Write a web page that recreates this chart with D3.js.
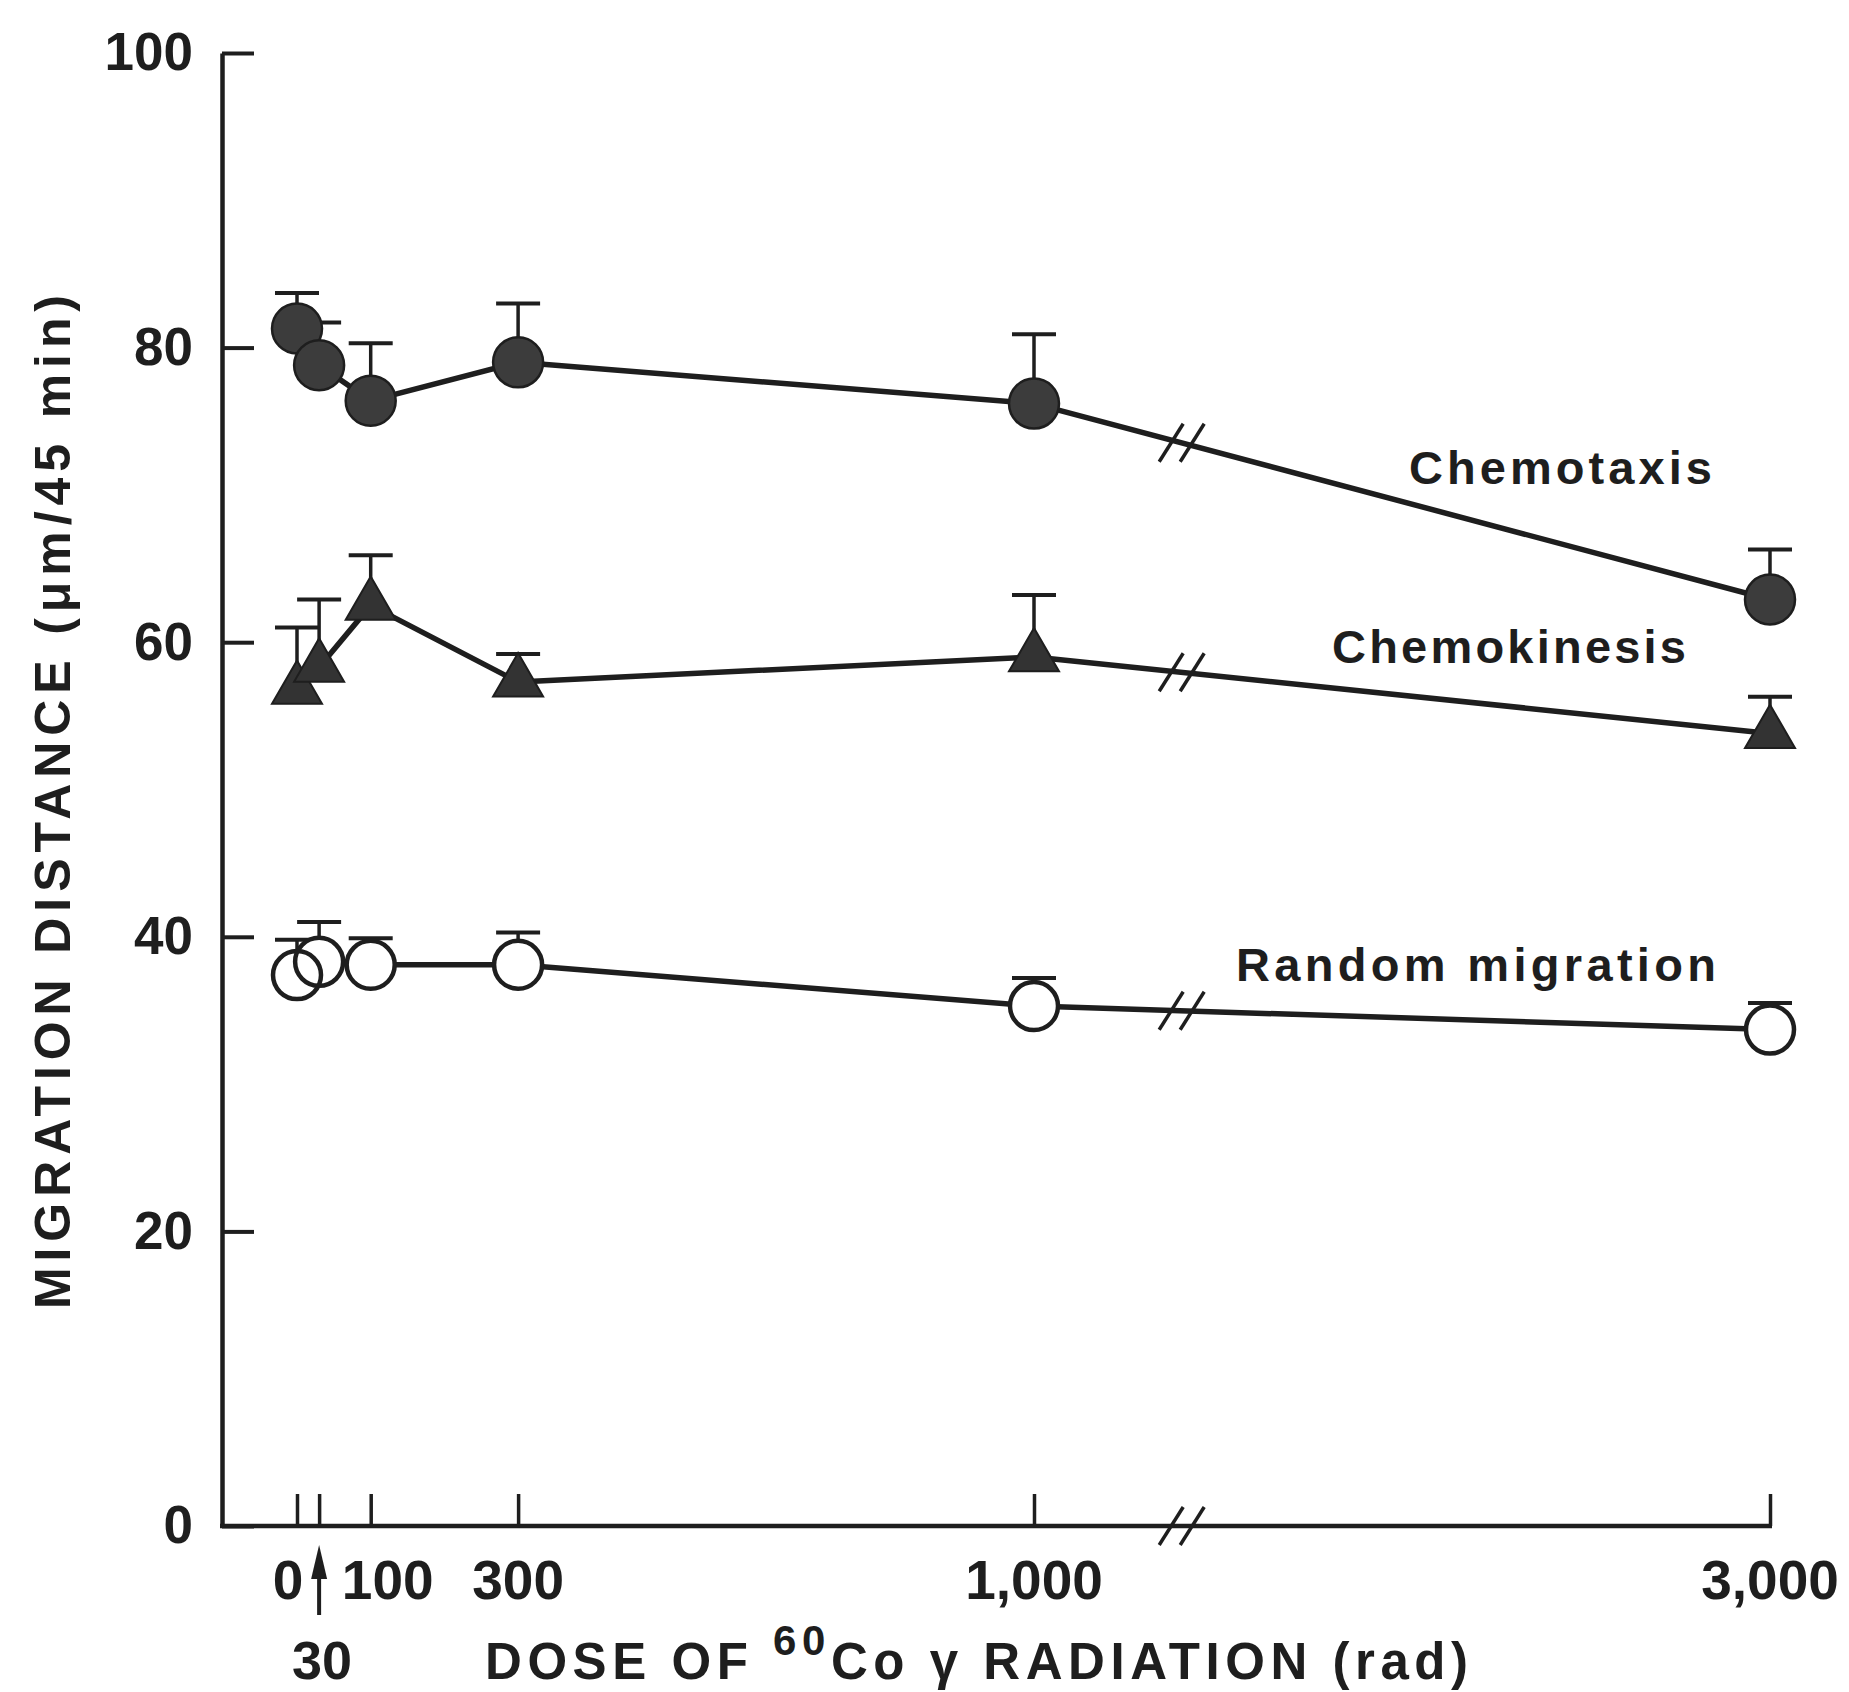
<!DOCTYPE html>
<html>
<head>
<meta charset="utf-8">
<script src="https://cdn.jsdelivr.net/npm/d3@7"></script>
<style>
  body { margin: 0; background: #fff; }
  svg { display: block; }
  text { font-family: "Liberation Sans", Arial, sans-serif; font-weight: bold; fill: #1e1e1e; }
</style>
</head>
<body>
<div id="chart"></div>
<script>
// doses (rad) and the three migration series (um / 45 min), with upper error (SE)
const doses = [0, 30, 100, 300, 1000, 3000];
const chemotaxis   = [81.3, 78.8, 76.4, 79.0, 76.2, 62.9];
const chemotaxisSE = [2.4, 2.9, 3.9, 4.0, 4.7, 3.4];
const chemokinesis   = [56.8, 58.3, 62.5, 57.3, 59.0, 53.8];
const chemokinesisSE = [4.2, 4.6, 3.4, 1.9, 4.2, 2.5];
const randomMig   = [37.4, 38.3, 38.1, 38.1, 35.3, 33.7];
const randomMigSE = [2.4, 2.7, 1.8, 2.2, 1.9, 1.8];

const yTicks = [0, 20, 40, 60, 80, 100];
const xTickDoses = [0, 100, 300, 1000, 3000];
const xTickLabels = ["0", "100", "300", "1,000", "3,000"];
const breakDose = 1400;

const width = 1849, height = 1692;
const ink = "#1e1e1e";

var svg = d3.select("#chart").append("svg")
    .attr("width", width)
    .attr("height", height);

svg.append("rect").attr("width", width).attr("height", height).attr("fill", "#fff");

// piecewise scale: linear up to 1000, compressed after the break
var x = d3.scaleLinear().domain([0, 1000, 3000]).range([297, 1034, 1770]);
var y = d3.scaleLinear().domain([0, 100]).range([1526, 53]);
const axisX = 222;

// y axis, ticks point inward
var yAxis = svg.append("g")
    .attr("transform", "translate(" + axisX + ",0)")
    .call(d3.axisLeft(y).tickValues(yTicks).tickSizeInner(-32).tickSizeOuter(0).tickPadding(29));
yAxis.select(".domain").attr("stroke", ink).attr("stroke-width", 4.5);
yAxis.selectAll(".tick line").attr("stroke", ink).attr("stroke-width", 4);
yAxis.selectAll(".tick text")
    .style("font-size", "53px")
    .style("font-family", "'Liberation Sans', Arial, sans-serif")
    .style("font-weight", "bold")
    .attr("fill", ink);

// x axis: ticks only from d3, the base line drawn by hand (it starts at the y axis)
var xAxis = svg.append("g")
    .attr("transform", "translate(0," + y(0) + ")")
    .call(d3.axisBottom(x).tickValues(doses).tickSizeInner(-32).tickSizeOuter(0).tickFormat(""));
xAxis.select(".domain").remove();
xAxis.selectAll(".tick line").attr("stroke", ink).attr("stroke-width", 3.5);

svg.append("line")
    .attr("x1", axisX - 2).attr("x2", x(3000) + 2)
    .attr("y1", y(0)).attr("y2", y(0))
    .attr("stroke", ink).attr("stroke-width", 4.5);

function drawBreak(cx, cy) {
    [-10, 11].forEach(function(dx) {
        svg.append("line")
            .attr("x1", cx + dx - 12).attr("y1", cy + 19)
            .attr("x2", cx + dx + 12).attr("y2", cy - 19)
            .attr("stroke", ink).attr("stroke-width", 3.5);
    });
}
drawBreak(x(breakDose), y(0));

// x tick labels (small nudges where the original shifts them around the arrow)
var labelNudge = {0: -9, 100: 17, 300: 0, 1000: 0, 3000: 0};
svg.selectAll(".xlab")
    .data(xTickDoses)
    .enter()
    .append("text")
    .attr("class", "xlab")
    .attr("x", function(d) { return x(d) + labelNudge[d]; })
    .attr("y", 1599)
    .attr("text-anchor", "middle")
    .style("font-size", "55px")
    .text(function(d, i) { return xTickLabels[i]; });

// arrow pointing at the 30 rad tick
var ax = x(30);
svg.append("line")
    .attr("x1", ax).attr("x2", ax)
    .attr("y1", 1615).attr("y2", 1570)
    .attr("stroke", ink).attr("stroke-width", 4);
svg.append("path")
    .attr("d", "M" + ax + ",1545 L" + (ax - 8) + ",1579 L" + (ax + 8) + ",1579 Z")
    .attr("fill", ink);
svg.append("text")
    .attr("x", ax + 3).attr("y", 1679)
    .attr("text-anchor", "middle")
    .style("font-size", "54px")
    .text("30");

// axis titles
var xt = svg.append("text")
    .attr("x", 485).attr("y", 1679)
    .style("font-size", "51px")
    .attr("textLength", 983)
    .attr("lengthAdjust", "spacing");
xt.append("tspan").text("DOSE OF ");
xt.append("tspan").attr("dy", -24).style("font-size", "42px").text("60");
xt.append("tspan").attr("dy", 24).text("Co \u03b3 RADIATION (rad)");

svg.append("text")
    .attr("transform", "translate(70,802) rotate(-90)")
    .attr("text-anchor", "middle")
    .style("font-size", "50px")
    .attr("textLength", 1014)
    .attr("lengthAdjust", "spacing")
    .text("MIGRATION DISTANCE (\u03bcm/45 min)");

// series
var series = [
    {name: "Chemotaxis", values: chemotaxis, se: chemotaxisSE, marker: "filled"},
    {name: "Chemokinesis", values: chemokinesis, se: chemokinesisSE, marker: "triangle"},
    {name: "Random migration", values: randomMig, se: randomMigSE, marker: "open"}
];

var line = d3.line()
    .x(function(d) { return x(d.dose); })
    .y(function(d) { return y(d.v); });

series.forEach(function(s) {
    s.points = doses.map(function(d, i) { return {dose: d, v: s.values[i], se: s.se[i]}; });
});

// lines
series.forEach(function(s) {
    svg.append("path")
        .datum(s.points)
        .attr("d", line)
        .attr("fill", "none")
        .attr("stroke", ink)
        .attr("stroke-width", 5.5)
        .attr("stroke-linejoin", "round");
    // break marks on each line, between 1000 and 3000
    var v0 = s.values[4], v1 = s.values[5];
    var t = (breakDose - 1000) / 2000;
    drawBreak(x(breakDose), y(v0 + (v1 - v0) * t));
});

// error bars
series.forEach(function(s) {
    var g = svg.append("g");
    g.selectAll("line.stem")
        .data(s.points)
        .enter()
        .append("line")
        .attr("x1", function(d) { return x(d.dose); })
        .attr("x2", function(d) { return x(d.dose); })
        .attr("y1", function(d) { return y(d.v); })
        .attr("y2", function(d) { return y(d.v + d.se); })
        .attr("stroke", ink).attr("stroke-width", 3.5);
    g.selectAll("line.cap")
        .data(s.points)
        .enter()
        .append("line")
        .attr("x1", function(d) { return x(d.dose) - 22; })
        .attr("x2", function(d) { return x(d.dose) + 22; })
        .attr("y1", function(d) { return y(d.v + d.se); })
        .attr("y2", function(d) { return y(d.v + d.se); })
        .attr("stroke", ink).attr("stroke-width", 4);
});

// markers
var side = 50, th = side * Math.sqrt(3) / 2;
function triPath(d) {
    var cx = x(d.dose), cy = y(d.v);
    return "M" + cx + "," + (cy - th * 2 / 3) +
        "L" + (cx + side / 2) + "," + (cy + th / 3) +
        "L" + (cx - side / 2) + "," + (cy + th / 3) + "Z";
}

series.forEach(function(s) {
    var g = svg.append("g");
    if (s.marker === "filled") {
        g.selectAll("circle")
            .data(s.points)
            .enter()
            .append("circle")
            .attr("cx", function(d) { return x(d.dose); })
            .attr("cy", function(d) { return y(d.v); })
            .attr("r", 25)
            .attr("fill", "#3c3c3c")
            .attr("stroke", ink)
            .attr("stroke-width", 2.5);
    } else if (s.marker === "triangle") {
        g.selectAll("path")
            .data(s.points)
            .enter()
            .append("path")
            .attr("d", triPath)
            .attr("fill", "#333")
            .attr("stroke", ink)
            .attr("stroke-width", 2);
    } else {
        // white fills first so both outlines of overlapping circles stay visible
        g.selectAll("circle.fill")
            .data(s.points)
            .enter()
            .append("circle")
            .attr("cx", function(d) { return x(d.dose); })
            .attr("cy", function(d) { return y(d.v); })
            .attr("r", 24)
            .attr("fill", "#fff");
        g.selectAll("circle.ring")
            .data(s.points)
            .enter()
            .append("circle")
            .attr("cx", function(d) { return x(d.dose); })
            .attr("cy", function(d) { return y(d.v); })
            .attr("r", 24)
            .attr("fill", "none")
            .attr("stroke", ink)
            .attr("stroke-width", 4.5);
    }
});

// series labels
var labels = [
    {text: "Chemotaxis", x: 1409, y: 484, len: 303},
    {text: "Chemokinesis", x: 1332, y: 663, len: 354},
    {text: "Random migration", x: 1236, y: 981, len: 480}
];
svg.selectAll(".slab")
    .data(labels)
    .enter()
    .append("text")
    .attr("class", "slab")
    .attr("x", function(d) { return d.x; })
    .attr("y", function(d) { return d.y; })
    .attr("textLength", function(d) { return d.len; })
    .attr("lengthAdjust", "spacing")
    .style("font-size", "47px")
    .text(function(d) { return d.text; });
</script>
</body>
</html>
